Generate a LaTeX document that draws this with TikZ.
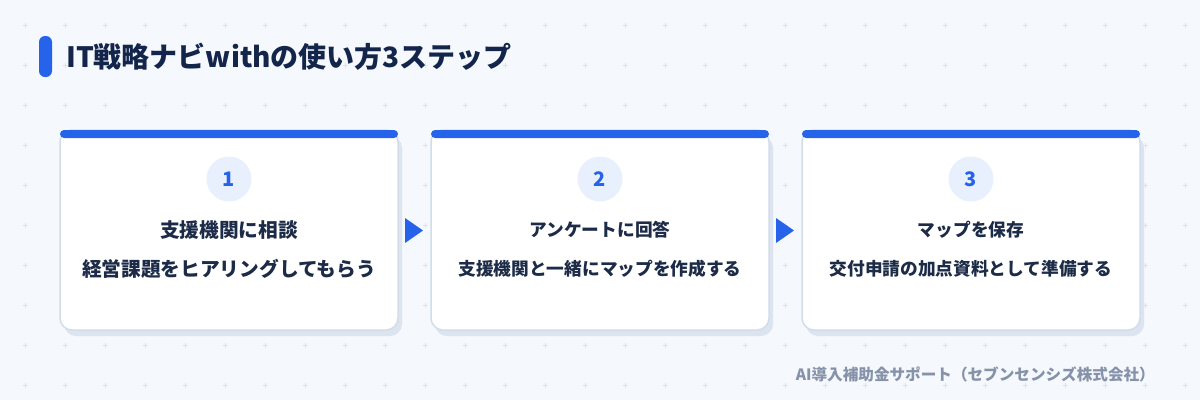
\documentclass[tikz,border=0pt]{standalone}
\usepackage{fontspec}
\setmainfont{Noto Sans CJK JP}
\definecolor{bg}{HTML}{F5F8FC}
\definecolor{gridc}{HTML}{DCE3EE}
\definecolor{accent}{HTML}{2563EB}
\definecolor{navy}{HTML}{13254A}
\definecolor{cardtext}{HTML}{1C2B47}
\definecolor{cardborder}{HTML}{D3DDEA}
\definecolor{shadowc}{HTML}{DCE4EF}
\definecolor{circlefill}{HTML}{E8F0FD}
\definecolor{footc}{HTML}{8592A9}
\tikzset{
  cardbox/.style={draw=cardborder, line width=1.5pt, fill=white, rounded corners=12pt, minimum width=338pt, minimum height=200pt, inner sep=0pt},
  cardshadow/.style={fill=shadowc, rounded corners=12pt, minimum width=338pt, minimum height=200pt, inner sep=0pt},
  numcircle/.style={circle, fill=circlefill, minimum size=45pt, inner sep=0pt, text=accent, font=\fontsize{20}{24}\selectfont\bfseries},
  headtext/.style={text=cardtext, inner sep=0pt},
  plusmark/.style={gridc, line width=1pt},
}
\begin{document}
\begin{tikzpicture}[x=1pt,y=-1pt]
\fill[bg] (0,0) rectangle (1200,400);
\useasboundingbox (0,0) rectangle (1200,400);
% grid of plus marks
\foreach \gx in {0,...,29}{
  \foreach \gy in {0,...,9}{
    \draw[plusmark] ({25+40*\gx-2.5},{25+40*\gy}) -- ++(5,0);
    \draw[plusmark] ({25+40*\gx},{25+40*\gy-2.5}) -- ++(0,5);
  }
}
% title
\fill[accent, rounded corners=6pt] (39,36) rectangle (52,77);
\node[anchor=west, text=navy, font=\fontsize{28}{32}\selectfont\bfseries, inner sep=0pt] (title) at (66,57) {IT戦略ナビwithの使い方3ステップ};
% cards
\foreach \i/\num/\fs/\head/\sub in {0/1/19.7/支援機関に相談/経営課題をヒアリングしてもらう, 1/2/17.7/アンケートに回答/支援機関と一緒にマップを作成する, 2/3/17.7/マップを保存/交付申請の加点資料として準備する}{
  \node[cardshadow] (shadow\num) at ({233+371*\i},236) {};
  \node[cardbox] (card\num) at ({229+371*\i},230) {};
  \fill[accent, rounded corners=4pt] ({60+371*\i},130) rectangle ({398+371*\i},138);
  \node[numcircle] (num\num) at ({229+371*\i},179) {\num};
  \node[headtext, font=\fontsize{\fs}{24}\selectfont\bfseries] (head\num) at ({229+371*\i},230) {\head};
  \node[headtext, font=\fontsize{\fs}{24}\selectfont\bfseries] (sub\num) at ({229+371*\i},269) {\sub};
}
% arrows between cards
\fill[accent] (405,218) -- (423,230.5) -- (405,243) -- cycle;
\fill[accent] (776,218) -- (794,230.5) -- (776,243) -- cycle;
% footer
\node[anchor=east, text=footc, font=\fontsize{15.6}{18}\selectfont\bfseries, inner sep=0pt] (footer) at (1155,374) {AI導入補助金サポート（セブンセンシズ株式会社）};
\end{tikzpicture}
\end{document}
